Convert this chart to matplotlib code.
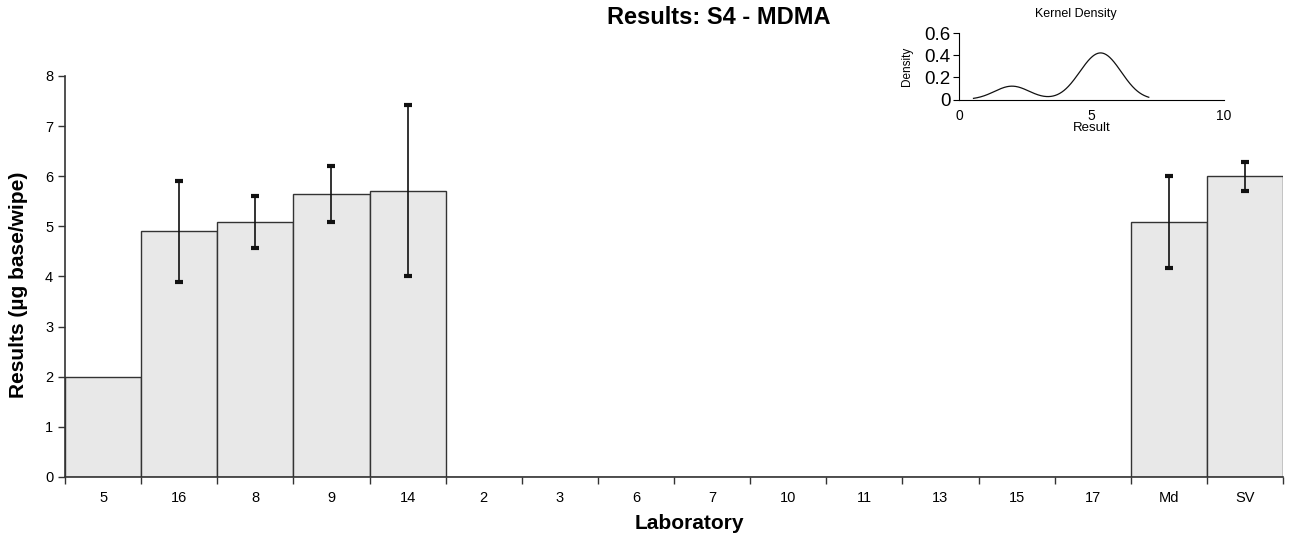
import numpy as np
import matplotlib
matplotlib.use("Agg")
import matplotlib.pyplot as plt
from matplotlib.ticker import FormatStrFormatter, FixedLocator

plt.rcParams['font.family'] = ['Liberation Sans', 'DejaVu Sans']

labs = ["5", "16", "8", "9", "14", "2", "3", "6", "7", "10", "11", "13", "15", "17", "Md", "SV"]
values = [2.0, 4.9, 5.09, 5.65, 5.71, 0, 0, 0, 0, 0, 0, 0, 0, 0, 5.09, 6.0]
err = [np.nan, 1.0, 0.52, 0.56, 1.71, np.nan, np.nan, np.nan, np.nan, np.nan, np.nan, np.nan, np.nan, np.nan, 0.92, 0.29]
lab_results = [2.0, 4.9, 5.09, 5.65, 5.71]
bandwidth = 0.66

fig = plt.figure(figsize=(12.9, 5.44), dpi=100)
ax = fig.add_axes([0.0504, 0.1232, 0.9442, 0.7371])
x = np.arange(len(labs))
ax.bar(x, values, width=1.0, color='#e8e8e8', edgecolor='#333333', linewidth=1.0, zorder=2)
xe = [xi for xi, e in zip(x, err) if not np.isnan(e)]
ve = [v for v, e in zip(values, err) if not np.isnan(e)]
ee = [e for e in err if not np.isnan(e)]
ax.errorbar(xe, ve, yerr=ee, fmt='none', ecolor='#111111', elinewidth=1.2,
            capsize=3, capthick=3, zorder=3)
ax.set_xlim(-0.5, len(labs) - 0.5)
ax.set_ylim(0, 8)
ax.set_xticks(x)
ax.set_xticklabels(labs)
ax.xaxis.set_minor_locator(FixedLocator(np.arange(-0.5, len(labs), 1.0)))
ax.tick_params(axis='x', which='major', length=0, pad=10, labelsize=10.5)
ax.tick_params(axis='x', which='minor', length=5, width=1, color='#333333')
ax.tick_params(axis='y', which='major', length=5, width=1, labelsize=10.5, color='#333333')
ax.set_yticks(range(0, 9))
for s in ['top', 'right']:
    ax.spines[s].set_visible(False)
for s in ['left', 'bottom']:
    ax.spines[s].set_color('#333333')
    ax.spines[s].set_linewidth(1.2)
ax.set_xlabel('Laboratory', fontsize=15, fontweight='bold', va='center')
ax.set_ylabel('Results (µg base/wipe)', fontsize=15, fontweight='bold', va='center')
ax.xaxis.set_label_coords(0.513, -0.117)
ax.yaxis.set_label_coords(-0.0386, 0.479)
fig.text(0.557, 0.968, 'Results: S4 - MDMA', ha='center', va='center', fontsize=17, fontweight='bold')

# inset kernel density
ins = fig.add_axes([0.7434, 0.817, 0.2054, 0.1222])
gx = np.linspace(min(lab_results) - 2.2 * bandwidth, max(lab_results) + 2.2 * bandwidth, 400)
dens = np.zeros_like(gx)
for r in lab_results:
    dens += np.exp(-0.5 * ((gx - r) / bandwidth) ** 2) / (bandwidth * np.sqrt(2 * np.pi))
dens /= len(lab_results)
ins.plot(gx, dens, color='#111111', linewidth=0.9)
ins.set_xlim(0, 10)
ins.set_ylim(0, 0.6)
ins.set_xticks([0, 5, 10])
ins.set_yticks([0, 0.2, 0.4, 0.6])
ins.yaxis.set_major_formatter(FormatStrFormatter('%g'))
ins.tick_params(axis='y', labelsize=13.5, length=4, pad=2)
ins.tick_params(axis='x', labelsize=10, length=0, pad=7)
for s in ['top', 'right']:
    ins.spines[s].set_visible(False)
fig.text(1076 / 1290, 1 - 14 / 544, 'Kernel Density', ha='center', va='center', fontsize=9)
ins.set_xlabel('Result', fontsize=9.5, va='center')
ins.xaxis.set_label_coords(0.5, -0.43)
ins.set_ylabel('Density', fontsize=8.5, va='center')
ins.yaxis.set_label_coords(-0.196, 0.5)

fig.savefig('out.png', dpi=100)
